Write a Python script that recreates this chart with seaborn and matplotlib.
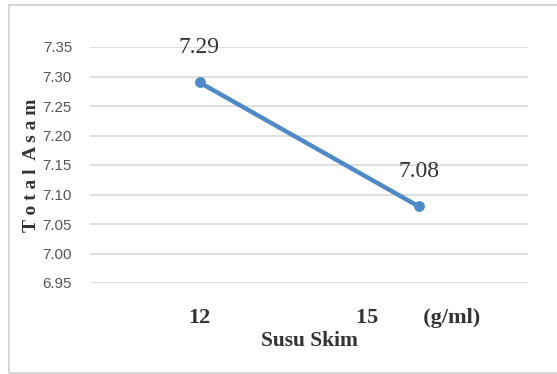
import numpy as np
import pandas as pd
import matplotlib
matplotlib.use("Agg")
import matplotlib.pyplot as plt
import seaborn as sns
from matplotlib.patches import Rectangle

# data
kategori = ["12", "15"]
tick_labels = ["12", "15        (g/ml)"]
total_asam = [7.29, 7.08]
y_ticks = [6.95, 7.00, 7.05, 7.10, 7.15, 7.20, 7.25, 7.30, 7.35]

df = pd.DataFrame({"Susu Skim": kategori, "Total Asam": total_asam})

sns.set_style("white")
blue = "#4F89C6"

fig = plt.figure(figsize=(5.57, 3.74), dpi=100)
ax = fig.add_axes([90/557, 1 - 283/374, 438/557, 236/374])

# outer chart frame
fig.patches.append(Rectangle((9/557, 1/374), 1.0, 368/374, transform=fig.transFigure,
                             fill=False, edgecolor="#D0D0D0", linewidth=1.2))

sns.lineplot(data=df, x="Susu Skim", y="Total Asam", ax=ax, color=blue,
             linewidth=3.2, marker="o", markersize=7, markeredgecolor=blue, sort=False)

ax.set_xlim(-0.5, 1.5)
ax.set_ylim(6.95, 7.35)
ax.set_yticks(y_ticks)
ax.set_yticklabels([f"{v:.2f}" for v in y_ticks],
                   fontfamily="Liberation Sans", fontsize=10.8, color="#555555")
ax.set_xticks(range(len(kategori)))
ax.set_xticklabels(tick_labels, fontfamily="Liberation Serif", fontsize=16,
                   fontweight="bold", color="#333333")
ax.tick_params(axis="y", length=0, pad=13)
ax.tick_params(axis="x", length=0, pad=18)
ax.grid(axis="y", color="#D9D9D9", linewidth=1.2)
ax.grid(axis="x", visible=False)
for s in ax.spines.values():
    s.set_visible(False)

ax.set_xlabel("Susu Skim", fontfamily="Liberation Serif", fontsize=15.5,
              fontweight="bold", color="#333333", labelpad=2)
ax.set_ylabel("T o t a l  A s a m", fontfamily="Liberation Serif", fontsize=14,
              fontweight="bold", color="#333333", labelpad=2)

# data labels
for i, v in enumerate(total_asam):
    ax.annotate(f"{v:.2f}", (i, v), xytext=(0, 25), textcoords="offset points",
                ha="center", va="center", fontfamily="Liberation Serif",
                fontsize=17, color="#333333")

fig.savefig("out.png", dpi=100)
